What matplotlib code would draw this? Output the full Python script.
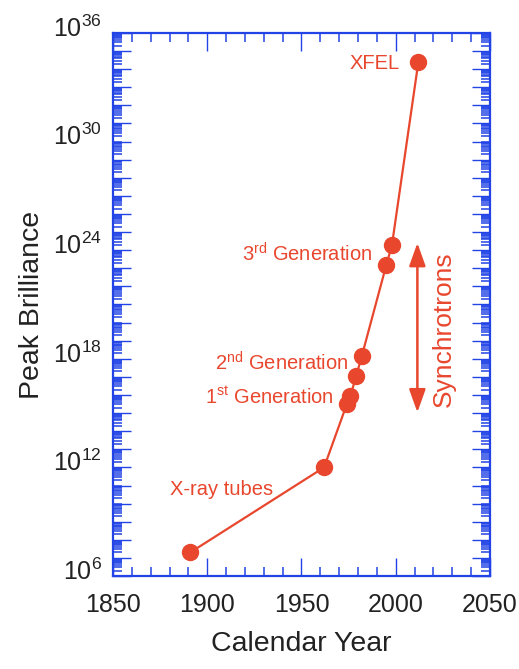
import numpy as np
import matplotlib
matplotlib.use("Agg")
import matplotlib.pyplot as plt
import matplotlib.transforms as mtransforms
from matplotlib.ticker import FixedLocator, FuncFormatter, MultipleLocator

plt.rcParams['font.family'] = ['Liberation Sans', 'DejaVu Sans']
plt.rcParams['mathtext.default'] = 'regular'

# data
years = [1891, 1962, 1974, 1976, 1979, 1982, 1995, 1998, 2012]
brilliance = [2e7, 1e12, 3e15, 9e15, 1.1e17, 1.4e18, 1.5e23, 1.9e24, 2.4e34]

# annotation labels
label_text = ["XFEL", "3$^{rd}$ Generation", "2$^{nd}$ Generation",
              "1$^{st}$ Generation", "X-ray tubes"]
label_year = [2002, 1987.5, 1975, 1967, 1880]
label_val = [2e34, 6e23, 6e17, 8e15, 6e10]
label_ha = ["right", "right", "right", "right", "left"]

red = "#e8472e"
blue = "#2244e6"

fig = plt.figure(figsize=(5.19, 6.69), dpi=100)
ax = fig.add_axes([0.2177, 0.139, 0.7263, 0.8117])

ax.plot(years, brilliance, color=red, lw=1.6, marker="o", ms=11.5,
        mec=red, mfc=red, zorder=3)

for t, x, y, ha in zip(label_text, label_year, label_val, label_ha):
    ax.text(x, y, t, color=red, fontsize=14.5, ha=ha, va="center")

# synchrotrons arrow
ax.annotate("", xy=(2011.5, 1.1e15), xytext=(2011.5, 2.5e24),
            arrowprops=dict(arrowstyle="<|-|>,head_length=0.7,head_width=0.25",
                            color=red, lw=1.8, mutation_scale=20,
                            shrinkA=0, shrinkB=0))
ax.text(2025.5, 4.5e19, "Synchrotrons", color=red, fontsize=19, rotation=90,
        ha="center", va="center")

ax.set_yscale("log")
ax.set_xlim(1850, 2050)
ax.set_ylim(1e6, 1e36)

ax.xaxis.set_major_locator(MultipleLocator(50))
ax.xaxis.set_minor_locator(MultipleLocator(10))

decades = np.arange(6, 37)
ax.yaxis.set_major_locator(FixedLocator(10.0 ** decades))
minor = [m * 10.0 ** d for d in decades[:-1] for m in range(2, 10)]
ax.yaxis.set_minor_locator(FixedLocator(minor))


def fmt(v, pos):
    k = int(round(np.log10(v)))
    if k % 6 == 0:
        return "$10^{%d}$" % k
    return ""


ax.yaxis.set_major_formatter(FuncFormatter(fmt))

ax.tick_params(which="both", direction="in", top=True, right=True,
               color=blue, labelsize=18, labelcolor="#222222")
ax.tick_params(which="major", length=13, width=1.0, pad=8)
ax.tick_params(which="minor", length=6.5, width=1.1)
ax.tick_params(axis="x", which="major", pad=12)

for s in ax.spines.values():
    s.set_color(blue)
    s.set_linewidth(1.6)

# nudge y tick labels up so the "10" sits on the tick
offset = mtransforms.ScaledTranslation(0, 5 / 72, fig.dpi_scale_trans)
for lab in ax.get_yticklabels():
    lab.set_transform(lab.get_transform() + offset)

ax.set_xlabel("Calendar Year", fontsize=20.5, color="#222222", labelpad=10)
ax.set_ylabel("Peak Brilliance", fontsize=20.5, color="#222222", labelpad=6)

fig.savefig("out.png", dpi=100)
